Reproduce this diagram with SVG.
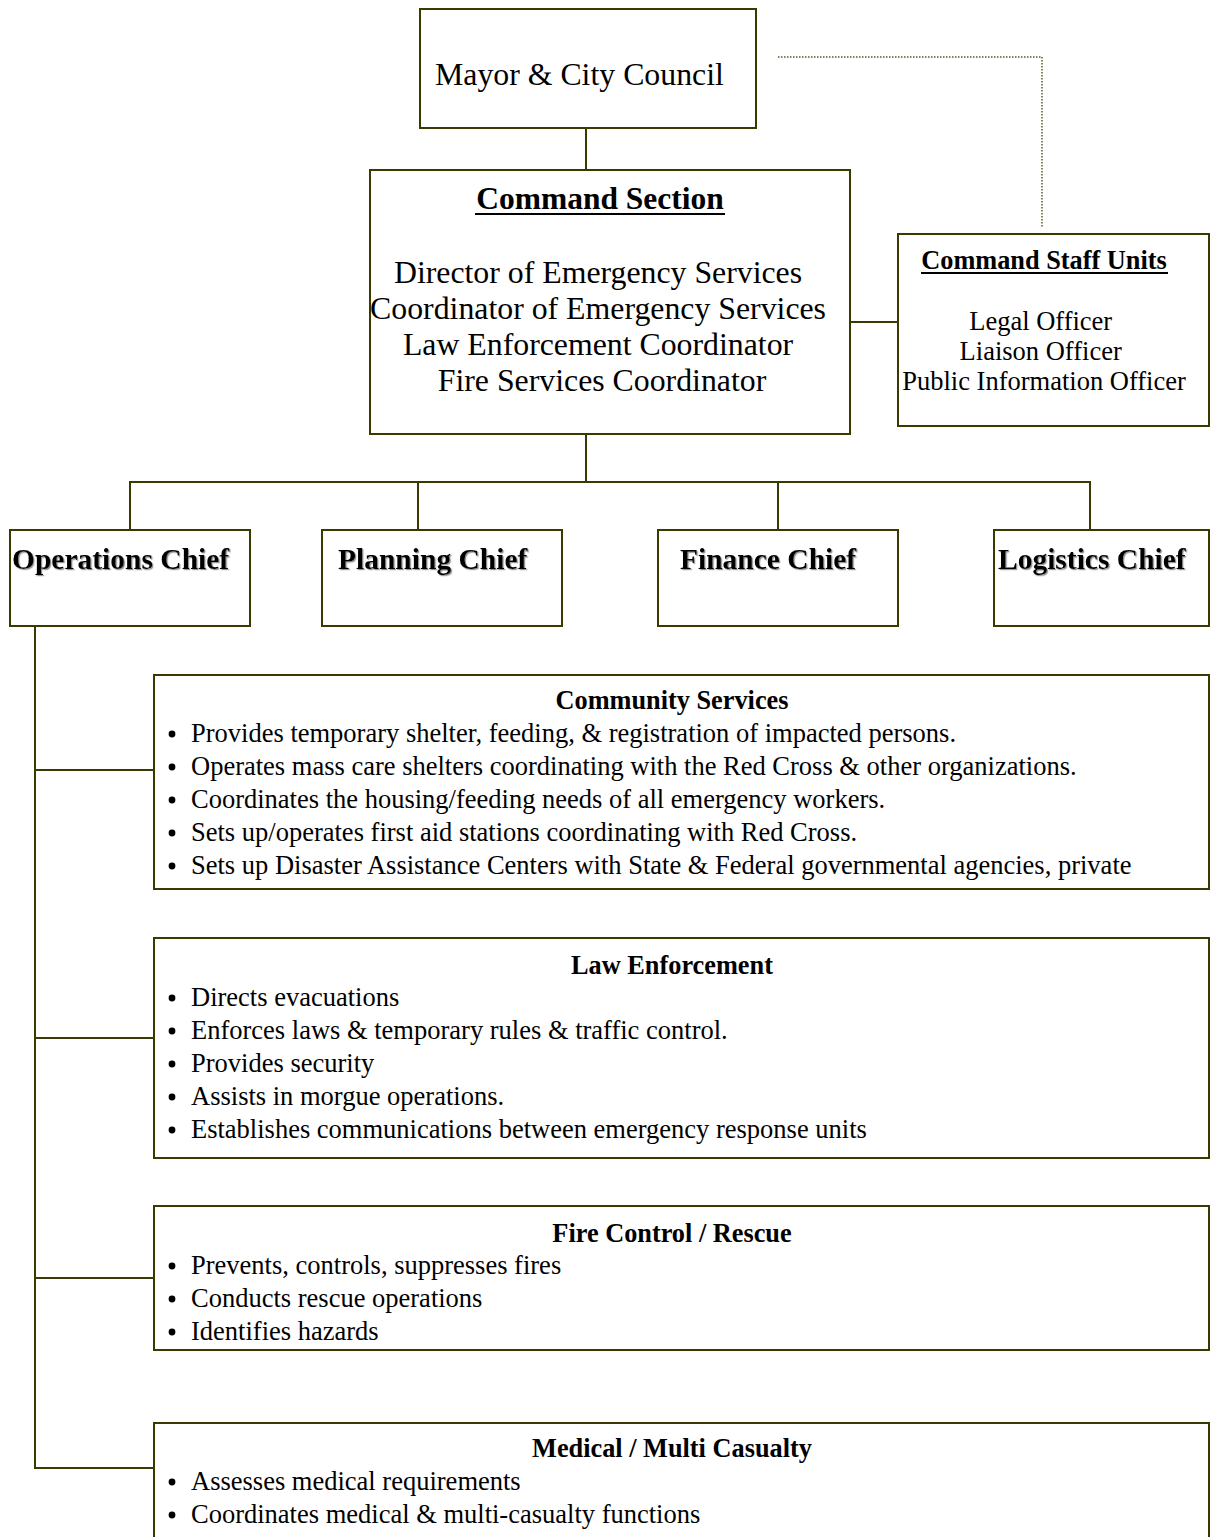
<svg xmlns="http://www.w3.org/2000/svg" width="1210" height="1537" viewBox="0 0 1210 1537">
  <style>
    .box { fill: #ffffff; stroke: #3a3a00; stroke-width: 2; }
    .wire { fill: none; stroke: #3a3a00; stroke-width: 2; }
    .dots { fill: none; stroke: #5a5a20; stroke-width: 1.5; stroke-dasharray: 1.5 1.5; }
    .ul { stroke: #000; stroke-width: 2.2; }
    .bullet { fill: #000; }
    text { font-family: "Liberation Serif", "Times New Roman", serif; fill: #000; }
    .big { font-size: 31.8px; }
    .title { font-size: 31.5px; font-weight: bold; }
    .chief { font-size: 29.5px; font-weight: bold; filter: url(#shade); }
    .head { font-size: 26.3px; font-weight: bold; }
    .item { font-size: 26.5px; }
  </style>
  <defs>
    <filter id="shade" x="-5%" y="-20%" width="110%" height="140%">
      <feDropShadow dx="1.2" dy="1.2" stdDeviation="0.6" flood-color="#777" flood-opacity="0.8"/>
    </filter>
    <circle id="pip" class="bullet" r="3.4"/>
  </defs>

  <rect width="1210" height="1537" fill="#ffffff"/>

  <!-- connectors -->
  <g id="connectors">
    <path class="wire" d="M586 128 V170"/>
    <path class="dots" d="M778 57 H1042 V228"/>
    <path class="wire" d="M850 322 H898"/>
    <path class="wire" d="M586 434 V482 M130 530 V482 H1090 V530 M418 482 V530 M778 482 V530"/>
    <path class="wire" d="M35 626 V1468 H154 M35 770 H154 M35 1038 H154 M35 1278 H154"/>
  </g>

  <g id="mayor">
    <rect class="box" x="420" y="9" width="336" height="119"/>
    <text class="big" x="435" y="85">Mayor &amp; City Council</text>
  </g>

  <g id="command-section">
    <rect class="box" x="370" y="170" width="480" height="264"/>
    <text class="title" x="600" y="209" text-anchor="middle">Command Section</text>
    <line class="ul" x1="475" y1="214" x2="725" y2="214"/>
    <text class="big" x="602" text-anchor="middle">
      <tspan x="602" y="283">Director of Emergency Services</tspan>
      <tspan x="602" y="319">Coordinator of Emergency Services</tspan>
      <tspan x="602" y="355">Law Enforcement Coordinator</tspan>
      <tspan x="602" y="391">Fire Services Coordinator</tspan>
    </text>
  </g>

  <g id="command-staff">
    <rect class="box" x="898" y="234" width="311" height="192"/>
    <text class="head" x="1044" y="269" text-anchor="middle">Command Staff Units</text>
    <line class="ul" x1="921" y1="273" x2="1168" y2="273"/>
    <text class="item" text-anchor="middle">
      <tspan x="1044" y="330">Legal Officer</tspan>
      <tspan x="1044" y="360">Liaison Officer</tspan>
      <tspan x="1044" y="390">Public Information Officer</tspan>
    </text>
  </g>

  <g id="operations-chief">
    <rect class="box" x="10" y="530" width="240" height="96"/>
    <text class="chief" x="12" y="569">Operations Chief</text>
  </g>
  <g id="planning-chief">
    <rect class="box" x="322" y="530" width="240" height="96"/>
    <text class="chief" x="338" y="569">Planning Chief</text>
  </g>
  <g id="finance-chief">
    <rect class="box" x="658" y="530" width="240" height="96"/>
    <text class="chief" x="680" y="569">Finance Chief</text>
  </g>
  <g id="logistics-chief">
    <rect class="box" x="994" y="530" width="215" height="96"/>
    <text class="chief" x="998" y="569">Logistics Chief</text>
  </g>

  <g id="community-services">
    <rect class="box" x="154" y="675" width="1055" height="214"/>
    <text class="head" x="672" y="709" text-anchor="middle">Community Services</text>
    <use href="#pip" x="172" y="734"/>
    <use href="#pip" x="172" y="767"/>
    <use href="#pip" x="172" y="800"/>
    <use href="#pip" x="172" y="833"/>
    <use href="#pip" x="172" y="866"/>
    <text class="item">
      <tspan x="191" y="742">Provides temporary shelter, feeding, &amp; registration of impacted persons.</tspan>
      <tspan x="191" y="775">Operates mass care shelters coordinating with the Red Cross &amp; other organizations.</tspan>
      <tspan x="191" y="808">Coordinates the housing/feeding needs of all emergency workers.</tspan>
      <tspan x="191" y="841">Sets up/operates first aid stations coordinating with Red Cross.</tspan>
      <tspan x="191" y="874">Sets up Disaster Assistance Centers with State &amp; Federal governmental agencies, private</tspan>
    </text>
  </g>

  <g id="law-enforcement">
    <rect class="box" x="154" y="938" width="1055" height="220"/>
    <text class="head" x="672" y="974" text-anchor="middle">Law Enforcement</text>
    <use href="#pip" x="172" y="998"/>
    <use href="#pip" x="172" y="1031"/>
    <use href="#pip" x="172" y="1064"/>
    <use href="#pip" x="172" y="1097"/>
    <use href="#pip" x="172" y="1130"/>
    <text class="item">
      <tspan x="191" y="1006">Directs evacuations</tspan>
      <tspan x="191" y="1039">Enforces laws &amp; temporary rules &amp; traffic control.</tspan>
      <tspan x="191" y="1072">Provides security</tspan>
      <tspan x="191" y="1105">Assists in morgue operations.</tspan>
      <tspan x="191" y="1138">Establishes communications between emergency response units</tspan>
    </text>
  </g>

  <g id="fire-control-rescue">
    <rect class="box" x="154" y="1206" width="1055" height="144"/>
    <text class="head" x="672" y="1242" text-anchor="middle">Fire Control / Rescue</text>
    <use href="#pip" x="172" y="1266"/>
    <use href="#pip" x="172" y="1299"/>
    <use href="#pip" x="172" y="1332"/>
    <text class="item">
      <tspan x="191" y="1274">Prevents, controls, suppresses fires</tspan>
      <tspan x="191" y="1307">Conducts rescue operations</tspan>
      <tspan x="191" y="1340">Identifies hazards</tspan>
    </text>
  </g>

  <g id="medical-multi-casualty">
    <rect class="box" x="154" y="1423" width="1055" height="130"/>
    <text class="head" x="672" y="1457" text-anchor="middle">Medical / Multi Casualty</text>
    <use href="#pip" x="172" y="1482"/>
    <use href="#pip" x="172" y="1515"/>
    <text class="item">
      <tspan x="191" y="1490">Assesses medical requirements</tspan>
      <tspan x="191" y="1523">Coordinates medical &amp; multi-casualty functions</tspan>
    </text>
  </g>
</svg>
